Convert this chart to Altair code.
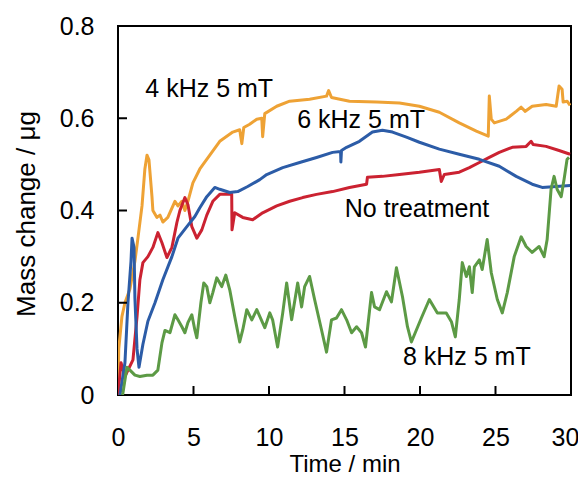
import altair as alt
import pandas as pd

# ---- data ----
orange_t = [0, 0.05, 0.26, 0.46, 0.79, 1.12, 1.32, 1.59, 1.78, 1.92, 2.05, 2.25, 2.31, 2.58, 2.78,
            2.97, 3.30, 3.77, 3.97, 4.23, 4.43, 4.63, 4.96, 5.42, 6.08, 6.74, 7.60, 8.06, 8.20, 8.33,
            8.72, 9.19, 9.52, 9.58, 9.72, 10.51, 11.37, 12.69, 13.81, 13.95, 14.14, 15.33, 17.12, 18.64,
            19.96, 21.28, 22.60, 23.73, 24.52, 24.59, 24.72, 24.92, 25.71, 26.37, 26.70, 26.97, 27.43,
            28.35, 29.02, 29.21, 29.41, 29.48, 29.74, 29.94]
orange_v = [0.0, 0.10, 0.17, 0.20, 0.23, 0.29, 0.34, 0.41, 0.49, 0.52, 0.51, 0.43, 0.40, 0.385, 0.39,
            0.375, 0.385, 0.42, 0.41, 0.42, 0.40, 0.42, 0.46, 0.49, 0.52, 0.55, 0.57, 0.575, 0.545, 0.58,
            0.587, 0.598, 0.60, 0.56, 0.61, 0.626, 0.637, 0.641, 0.648, 0.66, 0.645, 0.637, 0.635, 0.633,
            0.626, 0.613, 0.59, 0.572, 0.561, 0.648, 0.598, 0.59, 0.598, 0.615, 0.624, 0.615, 0.626,
            0.63, 0.626, 0.67, 0.663, 0.635, 0.637, 0.628]

blue_t = [0.13, 0.46, 0.66, 0.86, 0.93, 1.06, 1.12, 1.26, 1.39, 1.65, 1.98, 2.45, 2.97, 3.57, 3.97,
          4.56, 5.09, 5.42, 5.88, 6.41, 6.74, 7.40, 7.93, 8.59, 9.39, 9.85, 10.91, 12.03, 13.15, 14.21,
          14.74, 14.76, 14.80, 15.14, 15.99, 16.85, 17.51, 18.18, 19.10, 19.96, 21.28, 22.60, 23.93,
          25.25, 26.37, 27.43, 28.09, 29.02, 29.94]
blue_v = [0.0, 0.07, 0.20, 0.29, 0.34, 0.32, 0.21, 0.10, 0.06, 0.11, 0.16, 0.20, 0.25, 0.30, 0.34,
          0.365, 0.387, 0.406, 0.43, 0.45, 0.446, 0.439, 0.441, 0.452, 0.467, 0.478, 0.493, 0.504, 0.515,
          0.526, 0.528, 0.505, 0.53, 0.537, 0.55, 0.57, 0.574, 0.57, 0.559, 0.548, 0.533, 0.522, 0.511,
          0.496, 0.474, 0.457, 0.45, 0.452, 0.454]

red_t = [0.0, 0.2, 0.46, 0.66, 0.99, 1.26, 1.45, 1.65, 1.98, 2.31, 2.64, 2.91, 3.24, 3.57, 3.90,
         4.10, 4.43, 4.63, 4.89, 5.22, 5.55, 5.88, 6.28, 6.74, 7.53, 7.55, 7.73, 8.26, 8.92, 9.58,
         10.51, 11.37, 12.23, 13.15, 14.21, 15.33, 16.46, 16.52, 17.51, 18.64, 19.96, 21.28, 21.41,
         21.61, 22.60, 23.27, 23.93, 24.59, 25.25, 26.11, 27.03, 27.36, 27.49, 28.35, 29.21, 29.94]
red_v = [0.0, 0.07, 0.04, 0.054, 0.076, 0.17, 0.25, 0.287, 0.30, 0.32, 0.352, 0.33, 0.298, 0.32, 0.374,
         0.40, 0.428, 0.413, 0.365, 0.34, 0.358, 0.39, 0.42, 0.435, 0.435, 0.358, 0.395, 0.385, 0.38, 0.395,
         0.41, 0.42, 0.428, 0.435, 0.441, 0.45, 0.457, 0.472, 0.474, 0.478, 0.483, 0.489, 0.463,
         0.478, 0.483, 0.493, 0.504, 0.515, 0.526, 0.537, 0.539, 0.55, 0.543, 0.539, 0.53, 0.522]

green_t = [0.30, 0.33, 0.59, 0.79, 1.12, 1.45, 1.92, 2.31, 2.64, 2.91,
           3.11, 3.44, 3.77, 3.97, 4.23, 4.43, 4.63, 4.89, 5.09, 5.22,
           5.49, 5.68, 5.88, 6.08, 6.28, 6.54, 6.87, 7.14, 7.40, 7.73,
           8.06, 8.26, 8.53, 8.86, 9.19, 9.72, 10.05, 10.24, 10.57, 10.91,
           11.17, 11.50, 11.90, 12.16, 12.36, 12.69, 13.02, 13.48, 13.81, 14.14,
           14.47, 14.80, 15.14, 15.47, 15.80, 16.13, 16.39, 16.79, 16.99, 17.32,
           17.78, 18.11, 18.44, 18.84, 19.17, 19.43, 19.76, 20.09, 20.62, 21.15,
           21.74, 22.08, 22.34, 22.60, 22.80, 23.07, 23.27, 23.46, 23.60, 23.93,
           24.12, 24.45, 24.72, 25.12, 25.45, 25.78, 26.24, 26.70, 27.03, 27.43,
           27.89, 28.22, 28.42, 28.68, 28.88, 29.08, 29.35, 29.54, 29.74, 29.87]
green_v = [0.0, 0.005, 0.06, 0.054, 0.043, 0.04, 0.043, 0.043, 0.054, 0.113,
           0.14, 0.135, 0.174, 0.163, 0.148, 0.135, 0.157, 0.174, 0.141, 0.124,
           0.20, 0.243, 0.235, 0.20, 0.222, 0.254, 0.235, 0.26, 0.228, 0.17,
           0.115, 0.141, 0.185, 0.163, 0.185, 0.146, 0.178, 0.163, 0.104, 0.178,
           0.243, 0.163, 0.243, 0.191, 0.235, 0.257, 0.207, 0.141, 0.093, 0.163,
           0.167, 0.185, 0.163, 0.135, 0.148, 0.135, 0.104, 0.222, 0.191, 0.185,
           0.224, 0.202, 0.276, 0.213, 0.148, 0.115, 0.141, 0.167, 0.207, 0.178,
           0.178, 0.159, 0.126, 0.207, 0.287, 0.257, 0.278, 0.222, 0.278, 0.293,
           0.272, 0.337, 0.265, 0.207, 0.178, 0.222, 0.30, 0.343, 0.322, 0.309,
           0.322, 0.30, 0.337, 0.446, 0.474, 0.446, 0.43, 0.467, 0.511, 0.515]

series_names = ["4 kHz 5 mT", "No treatment", "6 kHz 5 mT", "8 kHz 5 mT"]
series_colors = ["#EEA235", "#CB2231", "#2C5CA7", "#5C9A45"]
series_t = [orange_t, red_t, blue_t, green_t]
series_v = [orange_v, red_v, blue_v, green_v]

label_text = ["4 kHz 5 mT", "6 kHz 5 mT", "No treatment", "8 kHz 5 mT"]
label_t = [6.04, 16.1, 19.8, 23.1]
label_v = [0.663, 0.596, 0.403, 0.083]

x_ticks = [0, 5, 10, 15, 20, 25, 30]
y_ticks = [0, 0.2, 0.4, 0.6, 0.8]

FONT = "Liberation Sans"
W, H = 453, 369
TICK = 9

x_scale = alt.Scale(domain=[0, 30], nice=False, zero=False)
y_scale = alt.Scale(domain=[0, 0.8], nice=False)

x_axis = alt.Axis(values=x_ticks, title="Time / min", ticks=False, domain=False, grid=False,
                  labelFontSize=25, labelFont=FONT, labelColor="black", labelPadding=30,
                  labelFlush=False, labelOverlap=False,
                  labelOffset={"condition": {"test": "datum.value == 30", "value": -6}, "value": 0},
                  titleFont=FONT, titleFontSize=24, titleFontWeight="normal", titleColor="black",
                  titleX=W / 2, titleY=69, titleBaseline="middle")
y_axis = alt.Axis(values=y_ticks, title="Mass change / μg", format="~g", ticks=False,
                  domain=False, grid=False, labelFontSize=25, labelFont=FONT, labelColor="black",
                  labelPadding=24, labelFlush=False, labelOverlap=False,
                  titleFont=FONT, titleFontSize=26, titleFontWeight="normal", titleColor="black",
                  titleX=-92, titleY=H / 2 + 3, titleBaseline="middle", titleAngle=270,
                  titleAlign="center")

enc_x = alt.X("t:Q", scale=x_scale, axis=x_axis)
enc_y = alt.Y("v:Q", scale=y_scale, axis=y_axis)

layers = []
for name, color, ts, vs in zip(series_names, series_colors, series_t, series_v):
    df = pd.DataFrame({"t": ts, "v": vs, "i": list(range(len(ts))), "s": name})
    layers.append(
        alt.Chart(df).mark_line(color=color, strokeWidth=3, clip=True, strokeJoin="round")
        .encode(x=enc_x, y=enc_y, order="i:Q")
    )

# inward-pointing tick marks placed through the scales
xt = alt.Chart(pd.DataFrame({"t": x_ticks[1:-1]})).mark_rule(color="black", strokeWidth=2).encode(
    x=enc_x, y=alt.value(H), y2=alt.value(H - TICK))
yt = alt.Chart(pd.DataFrame({"v": y_ticks[1:-1]})).mark_rule(color="black", strokeWidth=2).encode(
    y=enc_y, x=alt.value(0), x2=alt.value(TICK))

labels_df = pd.DataFrame({"text": label_text, "t": label_t, "v": label_v})
labels = alt.Chart(labels_df).mark_text(font=FONT, fontSize=25, color="black", align="center",
                                        baseline="middle").encode(
    x=enc_x, y=enc_y, text="text:N",
)

chart = alt.layer(*layers, xt, yt, labels).properties(
    width=W, height=H,
    padding={"left": 110, "top": 18, "right": 7, "bottom": 84},
    autosize=alt.AutoSizeParams(type="none"),
).configure(background="white").configure_view(stroke="black", strokeWidth=2)

chart.save("out.html", embed_options={"renderer": "svg", "actions": False})
